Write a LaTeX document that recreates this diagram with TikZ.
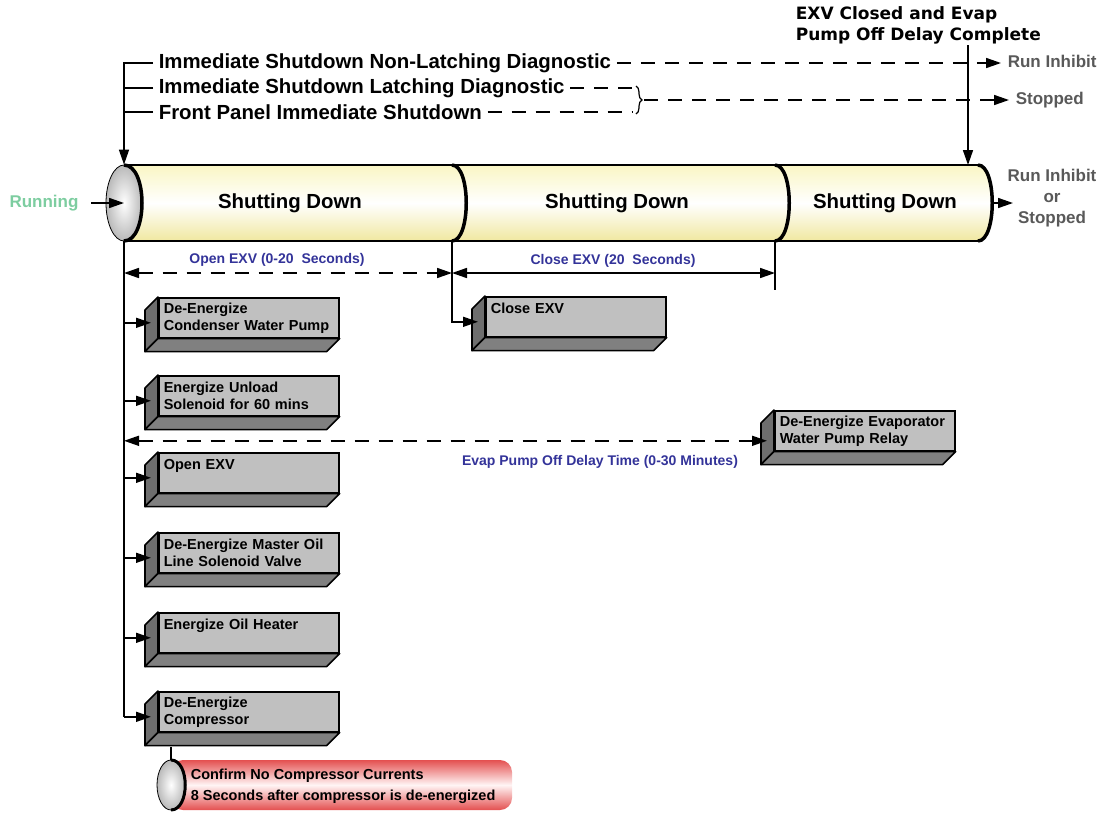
\documentclass[tikz,border=0pt]{standalone}
\usepackage{fontspec}
\setmainfont{Liberation Sans}
\newfontfamily\verd{DejaVu Sans}
\usetikzlibrary{arrows.meta,calc,shapes.geometric,decorations.pathreplacing}
\definecolor{boxfront}{RGB}{192,192,192}
\definecolor{boxside}{RGB}{110,110,110}
\definecolor{boxbot}{RGB}{128,128,128}
\definecolor{spanblue}{RGB}{51,51,153}
\definecolor{outgray}{RGB}{89,89,89}
\definecolor{rungreen}{RGB}{125,205,160}
\definecolor{tubetop}{RGB}{250,246,196}
\definecolor{tubebot}{RGB}{240,232,160}
\definecolor{confred}{RGB}{228,80,80}
\begin{document}
\begin{tikzpicture}[x=1pt, y=-1pt, line width=1.6pt, >={Triangle[length=15pt,width=10pt]},
  diag/.style={anchor=west, inner sep=0pt, font=\fontsize{20.4}{24}\selectfont\bfseries},
  outlbl/.style={inner sep=0pt, text=outgray, font=\fontsize{17}{21}\selectfont\bfseries},
  spanlbl/.style={inner sep=0pt, text=spanblue, font=\fontsize{14}{17}\selectfont\bfseries},
  act/.style={draw, fill=boxfront, anchor=north west, minimum height=40pt, text width=170pt,
    inner xsep=5pt, align=left, font=\fontsize{14.5}{17}\selectfont\bfseries},
  face/.style={draw, fill=#1, line join=round},
  dashline/.style={dash pattern=on 14pt off 10pt},
  endcap/.style={ellipse, draw, line width=0.8pt, inner sep=0pt, inner color=white, outer color=gray!55}]
  \useasboundingbox (0,0) rectangle (1106,812);

  \shade[top color=tubetop, bottom color=tubebot, middle color=white]
    (124,165) -- (978,165) .. controls (997,165) and (997,241) .. (978,241) -- (124,241) -- cycle;
  \draw[line width=1.2pt] (124,165) -- (978,165) (124,241) -- (978,241);
  \foreach \x in {452,775,978}
    \draw[line width=3.5pt] (\x,165) .. controls (\x+19,165) and (\x+19,241) .. (\x,241);
  \node[endcap, minimum width=36pt, minimum height=76pt] (cap) at (124,203) {};
  \draw[line width=3.5pt] (124,165) .. controls (148,165) and (148,241) .. (124,241);
  \node[diag, anchor=center] (sd1) at (290,203) {Shutting Down};
  \node[diag, anchor=center] (sd2) at (617,203) {Shutting Down};
  \node[diag, anchor=center] (sd3) at (885,203) {Shutting Down};

  \node[outlbl, text=rungreen] (run) at (44,203) {Running};
  \draw[->, shorten <=12pt] (run) -- (cap.center);

  \node[diag] (nl) at (158,63) {Immediate Shutdown Non-Latching Diagnostic};
  \node[diag] (lt) at (158,88) {Immediate Shutdown Latching Diagnostic};
  \node[diag] (fp) at (158,112) {Front Panel Immediate Shutdown};
  \draw[->] ([xshift=-5pt]nl.west) -| (cap.north);
  \foreach \n in {lt,fp}
    \draw ([xshift=-5pt]\n.west) -- (\n.west -| cap.north);

  \node[outlbl, anchor=west] (ri) at (1007,61) {Run Inhibit};
  \node[outlbl, anchor=west] (st) at (1015,100) {Stopped};
  \draw[->, dashline] ([xshift=5pt]nl.east) -- ([xshift=-6pt]nl.east -| ri.west);
  \draw[dashline] ([xshift=5pt]lt.east) -- (632,88);
  \draw[dashline] ([xshift=5pt]fp.east) -- (632,112);
  \draw[decorate, decoration={brace, amplitude=6pt}, line width=1.2pt] (636,86) -- (636,114);
  \draw[->, dashline] (644,100) -- ([xshift=-6pt]st.west);

  \node[anchor=north west, align=left, inner sep=0pt, font=\verd\fontsize{17}{21}\selectfont\bfseries]
    (ex) at (795,6) {EXV Closed and Evap\\Pump Off Delay Complete};
  \coordinate (tr) at (968,165);
  \draw[->] (ex.south -| tr) -- (tr);

  \node[outlbl, align=center] (ris) at (1052,198) {Run Inhibit\\or\\Stopped};
  \coordinate (te) at (993,203);
  \draw[->] (te) -- ++(20,0);

  \node[act] (b1) at (158,297) {De-Energize\\Condenser Water Pump};
  \node[act] (b2) at (158,375) {Energize Unload\\Solenoid for 60 mins};
  \node[act] (b3) at (158,452) {Open EXV\\\mbox{}};
  \node[act] (b4) at (158,532) {De-Energize Master Oil\\Line Solenoid Valve};
  \node[act] (b5) at (158,612) {Energize Oil Heater\\\mbox{}};
  \node[act] (b6) at (158,691) {De-Energize\\Compressor};
  \node[act] (b7) at (485,296) {Close EXV\\\mbox{}};
  \node[act] (b8) at (774,410) {De-Energize Evaporator\\Water Pump Relay};
  \foreach \i in {1,...,8} {
    \draw[face=boxside] (b\i.north west) -- ++(-13,13) -- ($(b\i.south west)+(-13,13)$) -- (b\i.south west) -- cycle;
    \draw[face=boxbot] (b\i.south west) -- ++(-13,13) -- ($(b\i.south east)+(-13,13)$) -- (b\i.south east) -- cycle;
  }

  \foreach \i in {1,...,6} {
    \path ([shift={(-7,5)}]b\i.west) coordinate (a\i);
    \draw[->] (a\i -| cap.south) -- (a\i);
  }
  \draw (cap.south) -- (a6 -| cap.south);
  \path ([shift={(-7,5)}]b7.west) coordinate (a7);
  \draw[->] (452,241) |- (a7);
  \draw (775,241) -- (775,290);

  \draw[<->, dashline] (124,273) -- (452,273);
  \draw[<->] (452,273) -- (775,273);
  \node[spanlbl] (oe) at (277,260) {Open EXV (0-20\ \ Seconds)};
  \node[spanlbl] (ce) at (613,261) {Close EXV (20\ \ Seconds)};

  \path ([shift={(-7,10)}]b8.west) coordinate (a8);
  \draw[<->, dashline] (a8 -| cap.south) -- (a8);
  \node[spanlbl] (ep) at (600,462) {Evap Pump Off Delay Time (0-30 Minutes)};

  \shade[top color=confred, bottom color=confred, middle color=red!4!white, rounded corners=12pt]
    (171,760) -- (512,760) -- (512,810) -- (171,810) -- cycle;
  \node[endcap, minimum width=28pt, minimum height=50pt] (cc) at (171,785) {};
  \draw[line width=3pt] (171,760) .. controls (190,760) and (190,810) .. (171,810);
  \draw (cc.north) -- ([yshift=-14pt]cc.north |- b6.south);
  \node[anchor=west, align=left, inner sep=0pt, font=\fontsize{14.5}{21}\selectfont\bfseries]
    (cf) at (190,786) {Confirm No Compressor Currents\\8 Seconds after compressor is de-energized};
\end{tikzpicture}
\end{document}
